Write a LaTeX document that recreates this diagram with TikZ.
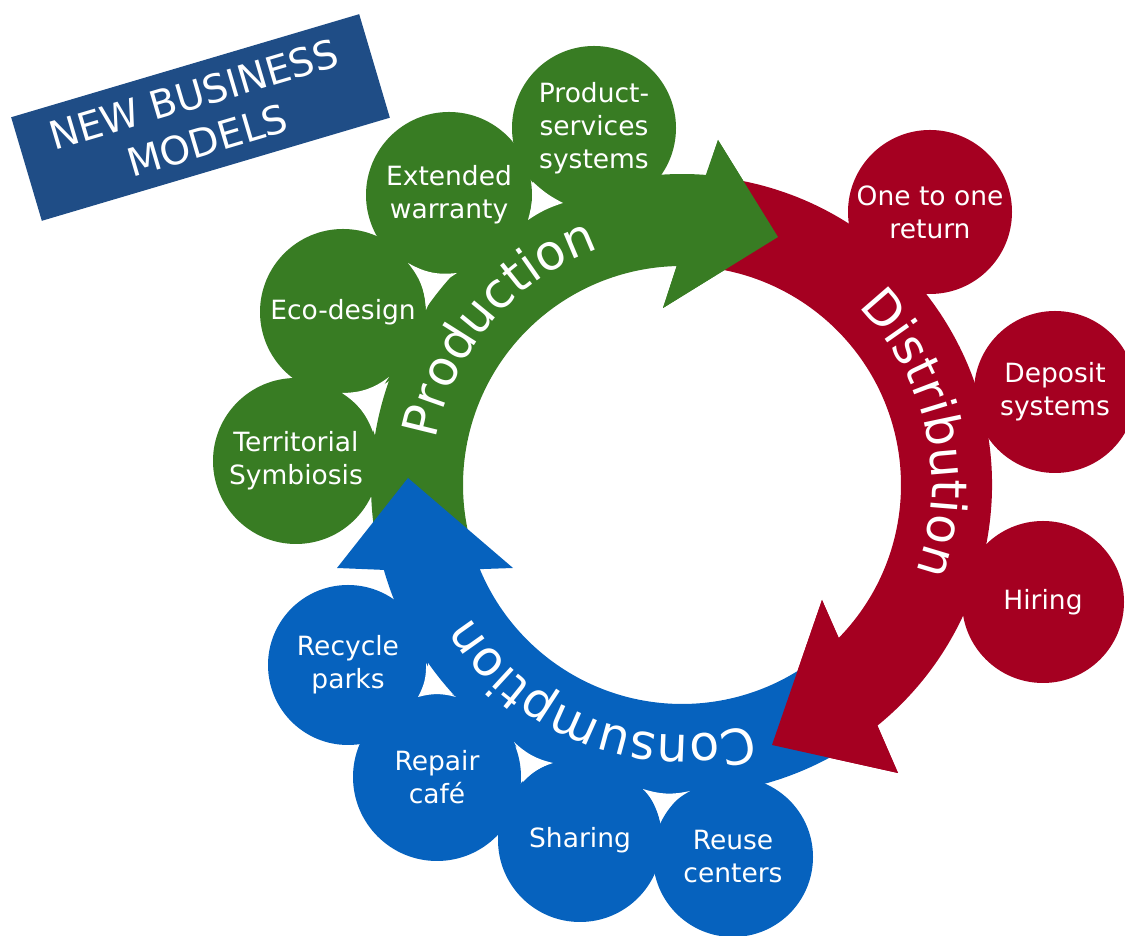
\documentclass[tikz,border=0pt]{standalone}
\usepackage{fontspec}
\setmainfont{DejaVu Sans}
\usetikzlibrary{decorations.text}
\definecolor{cgreen}{RGB}{56,124,35}
\definecolor{cred}{RGB}{165,0,33}
\definecolor{cblue}{RGB}{6,98,190}
\definecolor{cnavy}{RGB}{31,77,134}
\begin{document}
\begin{tikzpicture}[x=1pt,y=1pt,
  bubble/.style={circle, inner sep=0pt, text=white, align=center,
    font=\fontsize{26.5}{33}\selectfont, minimum size=#1},
  gap/.style={fill=white},
  ringtext/.style={decorate, decoration={text along path, text align=center,
    text={|\color{white}\fontsize{49}{49}\selectfont|#1}}}]
\useasboundingbox (0,0) rectangle (1125,936);
\coordinate (ctr) at (682,451);
% arrow head points
\coordinate (GOC) at (718,796); \coordinate (GT) at (778,699); \coordinate (GIC) at (663,628);
\coordinate (ROC) at (898,163); \coordinate (RT) at (772,191); \coordinate (RIC) at (822,336);
\coordinate (BOC) at (337,368); \coordinate (BT) at (408,458); \coordinate (BIC) at (513,368);
\begin{scope}[shift={(ctr)}]
  % green arrow (Production)
  \fill[cgreen] (193.5:311pt) arc[start angle=193.5, end angle=85.6, radius=311pt]
    -- (GOC) -- (GT) -- (GIC) -- (91.4:219pt)
    arc[start angle=91.4, end angle=193.5, radius=219pt] -- cycle;
  % red arrow (Distribution)
  \fill[cred] (81:310pt) arc[start angle=81, end angle=-50.9, radius=310pt]
    -- (ROC) -- (RT) -- (RIC) -- (-44.3:219pt)
    arc[start angle=-44.3, end angle=81, radius=219pt] -- cycle;
  % blue arrow (Consumption)
  \fill[cblue] (-55:310pt) arc[start angle=-55, end angle=-164.1, radius=310pt]
    -- (BOC) -- (BT) -- (BIC) -- (-157.4:219pt)
    arc[start angle=-157.4, end angle=-55, radius=219pt] -- cycle;
\end{scope}
% heads on top of the following tails
\fill[cgreen] (GOC) -- (GT) -- (GIC) -- cycle;
\fill[cred] (ROC) -- (RT) -- (RIC) -- cycle;
% bubbles
\node[bubble=166pt, fill=cgreen] (terr) at (296,475) {Territorial\\Symbiosis};
\node[bubble=166pt, fill=cgreen] (eco) at (343,624) {Eco-design};
\node[bubble=166pt, fill=cgreen] (ext) at (449,741) {Extended\\warranty};
\node[bubble=164pt, fill=cgreen] (pss) at (594,808) {Product-\\services\\systems};
\node[bubble=164pt, fill=cred] (one) at (930,724) {One to one\\return};
\node[bubble=162pt, fill=cred] (dep) at (1055,544) {Deposit\\systems};
\node[bubble=162pt, fill=cred] (hir) at (1043,334) {Hiring};
\node[bubble=160pt, fill=cblue] (rec) at (348,271) {Recycle\\parks};
\node[bubble=168pt, fill=cblue] (rep) at (437,159) {Repair\\café};
\node[bubble=164pt, fill=cblue] (sha) at (580,96) {Sharing};
\node[bubble=160pt, fill=cblue] (reu) at (733,79) {Reuse\\centers};
% ring texts
\begin{scope}[shift={(ctr)}]
  \path[ringtext=Production] (185:250pt) arc[start angle=185, end angle=94, radius=250pt];
  \path[ringtext=Distribution] (57.5:250pt) arc[start angle=57.5, end angle=-32.5, radius=250pt];
  \path[ringtext=Consumption] (-66:250pt) arc[start angle=-66, end angle=-156, radius=250pt];
\end{scope}
% white gaps between bubbles
\fill[gap] (342,543) to[bend left=18] (373,504) to[bend left=18] (389,559) to[bend left=18] (342,543) -- cycle;
\fill[gap] (408,673) to[bend left=18] (426,626) to[bend left=18] (457,663) to[bend left=18] (408,673) -- cycle;
\fill[gap] (533,754) to[bend left=8] (528,716) to[bend left=8] (563,733) to[bend left=8] (533,754) -- cycle;
\fill[gap] (426,273) to[bend left=15] (418,239) to[bend left=15] (456,239) to[bend left=15] (426,273) -- cycle;
\fill[gap] (514,194) to[bend left=15] (523,154) to[bend left=15] (553,173) to[bend left=15] (514,194) -- cycle;
\fill[gap] (643,147) to[bend left=15] (660,116) to[bend left=15] (690,145) to[bend left=15] (643,147) -- cycle;
% title box
\node[rotate=16.5, fill=cnavy, minimum width=363pt, minimum height=108pt, inner sep=0pt,
  text=white, align=center, font=\fontsize{39}{48}\selectfont] (nbm) at (200.5,818.5)
  {NEW BUSINESS\\MODELS};
\end{tikzpicture}
\end{document}
